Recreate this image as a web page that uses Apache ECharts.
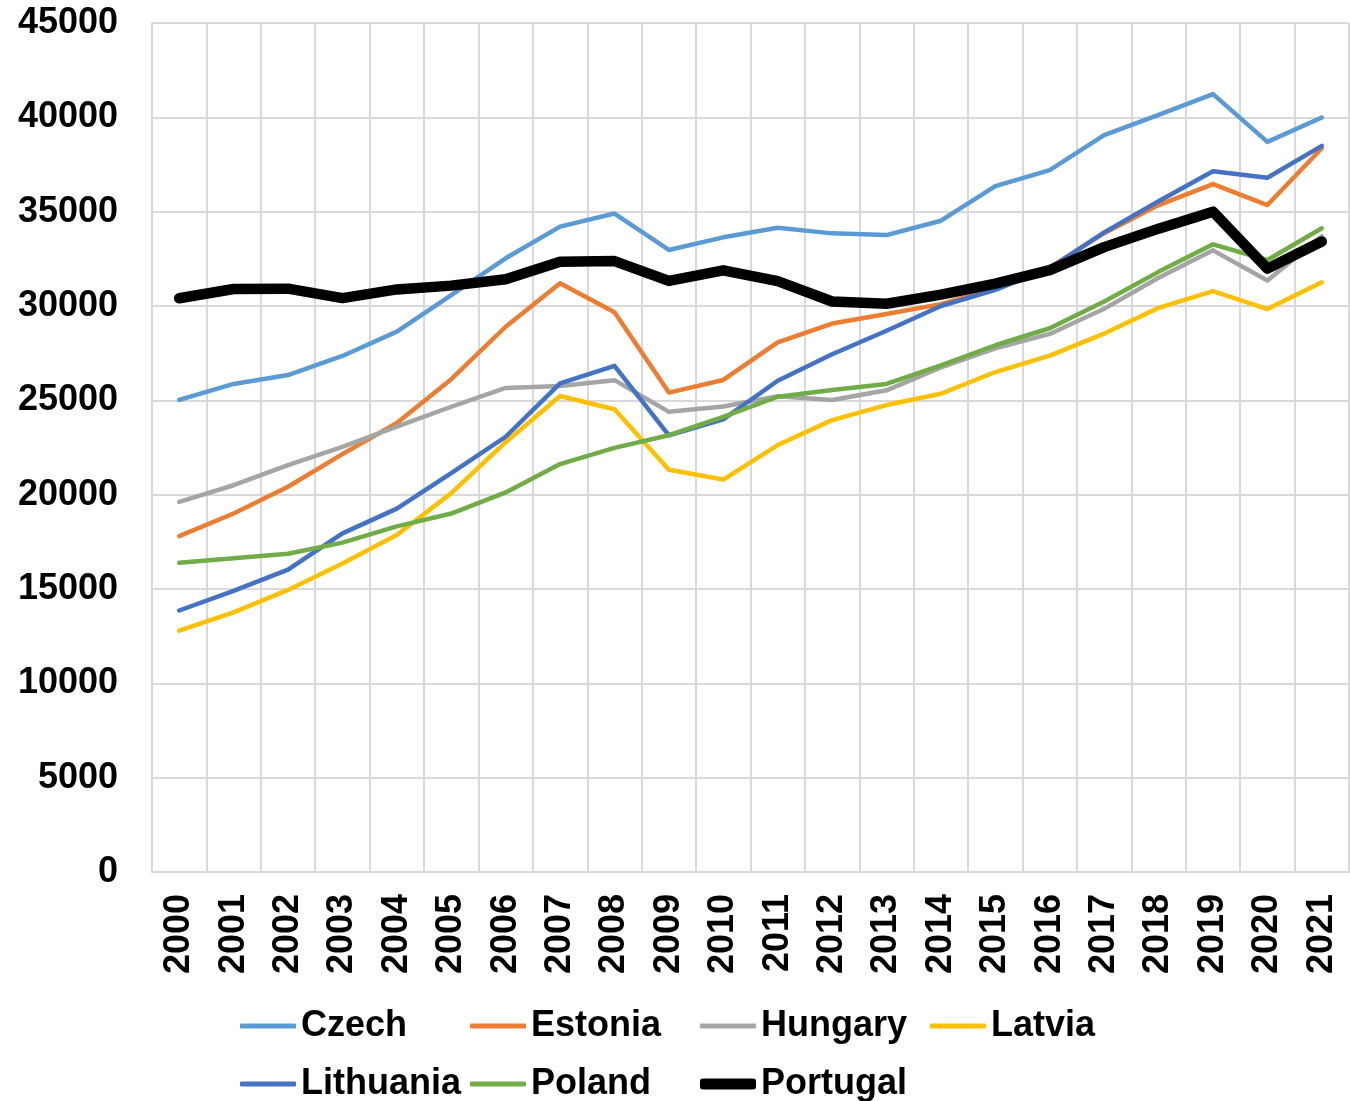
<!DOCTYPE html>
<html>
<head>
<meta charset="utf-8">
<script src="https://cdn.jsdelivr.net/npm/echarts@6/dist/echarts.min.js"></script>
<style>html,body{margin:0;padding:0;background:#fff}#c{width:1350px;height:1101px}</style>
</head>
<body>
<div id="c"></div>
<script>
const years = ['2000','2001','2002','2003','2004','2005','2006','2007','2008','2009','2010','2011','2012','2013','2014','2015','2016','2017','2018','2019','2020','2021'];
const czech     = [25020,25870,26340,27350,28640,30580,32530,34210,34900,32970,33640,34150,33850,33760,34520,36350,37200,39060,40130,41230,38700,39990];
const estonia   = [17800,19000,20420,22150,23800,26120,28900,31210,29670,25410,26080,28070,29070,29580,30100,30950,32050,33860,35350,36460,35350,38360];
const hungary   = [19620,20500,21560,22530,23610,24660,25660,25760,26070,24390,24670,25220,25020,25530,26750,27750,28520,29850,31500,32950,31350,33700];
const latvia    = [12790,13760,14950,16350,17860,20080,22780,25230,24530,21320,20800,22630,23950,24750,25350,26500,27370,28540,29900,30790,29840,31260];
const lithuania = [13860,14900,16030,17950,19260,21140,23070,25900,26830,23140,23990,26040,27440,28690,30000,30850,32000,33900,35550,37140,36800,38490];
const poland    = [16390,16630,16870,17460,18320,19000,20120,21620,22480,23150,24120,25190,25550,25870,26850,27920,28820,30240,31810,33270,32440,34120];
const portugal  = [30410,30900,30920,30420,30880,31080,31420,32350,32380,31330,31890,31320,30240,30120,30600,31190,31900,33120,34100,35000,31980,33420];

const seriesDefs = [
  ['Czech', czech, '#5B9BD5', 4.5],
  ['Estonia', estonia, '#ED7D31', 4.5],
  ['Hungary', hungary, '#A5A5A5', 4.5],
  ['Latvia', latvia, '#FFC000', 4.5],
  ['Lithuania', lithuania, '#4472C4', 4.5],
  ['Poland', poland, '#70AD47', 4.5],
  ['Portugal', portugal, '#000000', 10.5]
];

const font = '"Liberation Sans", Arial, sans-serif';
const legendText = { fontSize: 36, fontWeight: 'bold', fontFamily: font, color: '#000', width: 169, lineHeight: 58, padding: 0 };
const chart = echarts.init(document.getElementById('c'));
chart.setOption({
  animation: false,
  backgroundColor: '#fff',
  grid: { left: 152, right: 1, top: 23, bottom: 229, containLabel: false },
  xAxis: {
    type: 'category',
    data: years,
    boundaryGap: true,
    axisLine: { show: true, lineStyle: { color: '#d9d9d9', width: 2 } },
    axisTick: { show: false },
    splitLine: { show: true, interval: 0, lineStyle: { color: '#d9d9d9', width: 2 } },
    axisLabel: { interval: 0, rotate: 90, margin: 22, color: '#000', fontSize: 36, fontWeight: 'bold', fontFamily: font }
  },
  yAxis: {
    type: 'value',
    min: 0, max: 45000, interval: 5000,
    axisLine: { show: true, lineStyle: { color: '#d9d9d9', width: 2 } },
    axisTick: { show: false },
    splitLine: { show: true, lineStyle: { color: '#d9d9d9', width: 2 } },
    axisLabel: { margin: 34, color: '#000', fontSize: 36, fontWeight: 'bold', fontFamily: font, formatter: v => String(v) }
  },
  legend: [{
    left: 240, top: 997, width: 930, padding: 0,
    orient: 'horizontal',
    icon: 'roundRect',
    itemWidth: 56, itemHeight: 5, itemGap: 0,
    textStyle: legendText,
    data: seriesDefs.filter(d => d[3] < 10).map(d => d[0])
  }, {
    left: 700, top: 1055, padding: 0,
    orient: 'horizontal',
    icon: 'roundRect',
    itemWidth: 56, itemHeight: 11, itemGap: 0,
    textStyle: legendText,
    data: ['Portugal']
  }],
  series: seriesDefs.map(d => ({
    name: d[0], type: 'line', data: d[1], symbol: 'none',
    lineStyle: { color: d[2], width: d[3], cap: 'round', join: 'round' },
    itemStyle: { color: d[2] },
    z: d[0] === 'Portugal' ? 10 : 2
  }))
});
</script>
</body>
</html>
